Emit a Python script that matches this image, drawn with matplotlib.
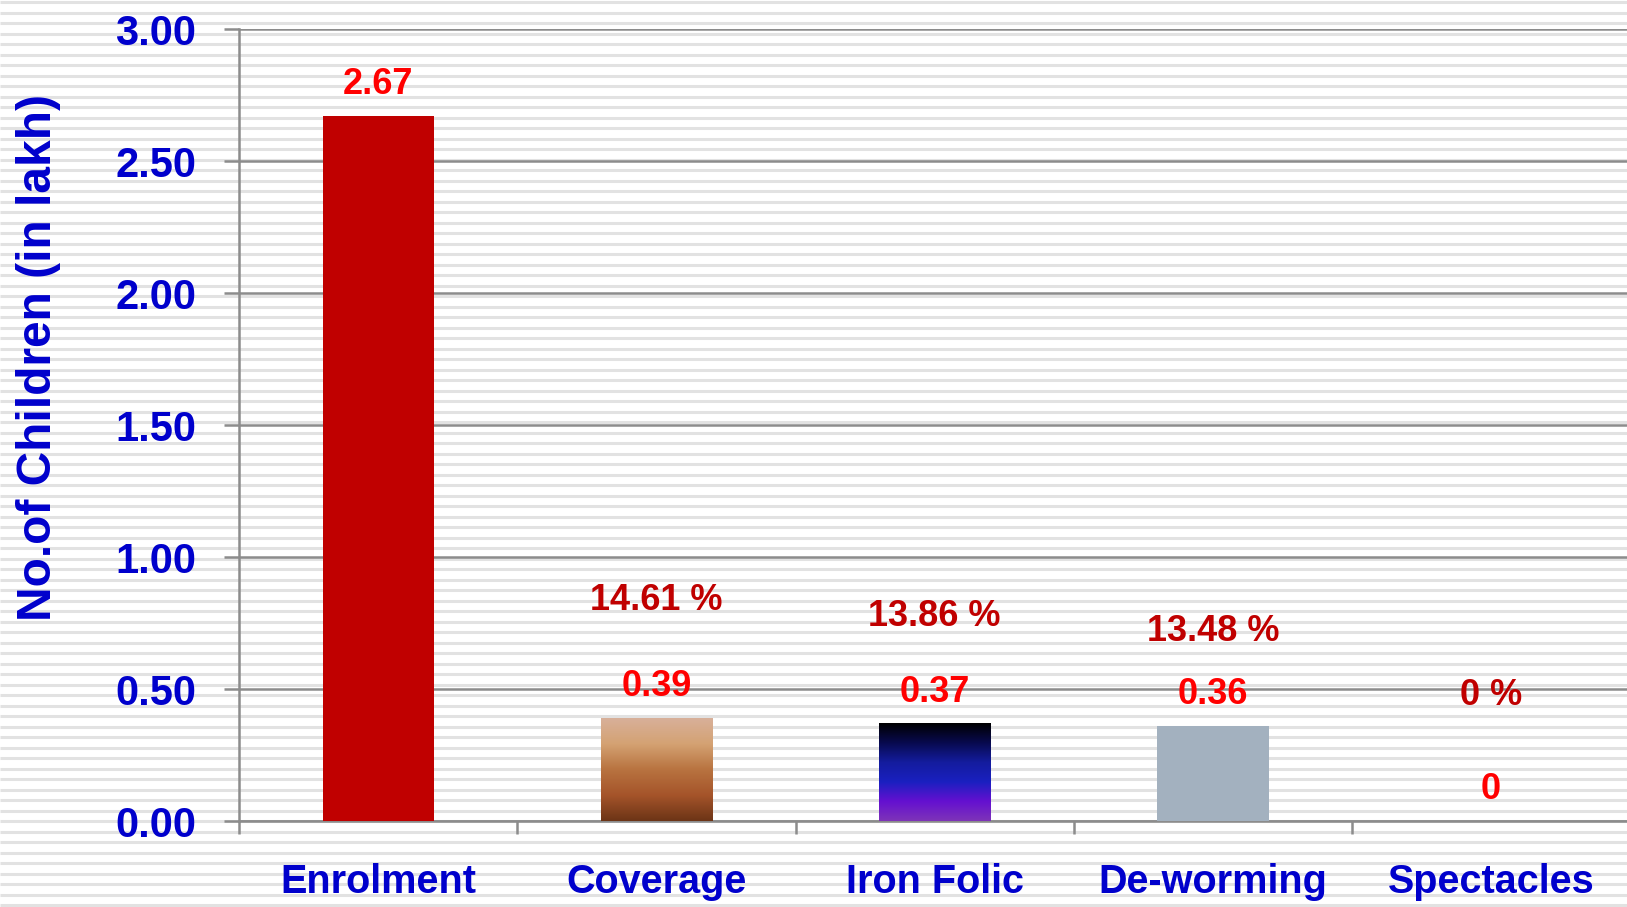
import numpy as np
import matplotlib
matplotlib.use('Agg')
import matplotlib.pyplot as plt
from matplotlib.colors import LinearSegmentedColormap

plt.rcParams['font.family'] = ['Liberation Sans', 'DejaVu Sans']
plt.rcParams['font.weight'] = 'bold'

categories = ['Enrolment', 'Coverage', 'Iron Folic', 'De-worming', 'Spectacles']
values = [2.67, 0.39, 0.37, 0.36, 0]
value_labels = ['2.67', '0.39', '0.37', '0.36', '0']
pct_labels = ['', '14.61 %', '13.86 %', '13.48 %', '0 %']
yticks = [0.0, 0.5, 1.0, 1.5, 2.0, 2.5, 3.0]

BLUE = '#0000CC'
RED = '#FF0000'
DARKRED = '#C00000'
GRID = '#8c8c8c'

fig = plt.figure(figsize=(16.27, 9.07), dpi=100)

# striped background
bg = fig.add_axes([0, 0, 1, 1], zorder=-10)
bg.set_xlim(0, 1)
bg.set_ylim(0, 907)
bg.hlines(np.arange(2, 907, 10.5), 0, 1, color='#e2e2e2', lw=2.2)
bg.axis('off')

ax = fig.add_axes([0.147, 0.0948, 0.855, 0.8732])
ax.set_facecolor('none')

x = np.arange(len(categories))
width = 0.4
bars = ax.bar(x, values, width, color=[DARKRED, 'none', 'none', '#A3B1BF', 'none'], zorder=3)

# gradient fills
grads = {
    1: ['#D8B09A', '#D4A273', '#B87340', '#A5542A', '#6C3416'],
    2: ['#000000', '#080A4E', '#141C9E', '#1A20C0', '#6410D0', '#7E34B8'],
}
for i, cols in grads.items():
    cmap = LinearSegmentedColormap.from_list('g%d' % i, cols)
    grad = np.linspace(0, 1, 256).reshape(-1, 1)
    b = bars[i]
    im = ax.imshow(grad, cmap=cmap, aspect='auto', zorder=3,
                   extent=[b.get_x(), b.get_x() + b.get_width(), 0, b.get_height()])
    im.set_clip_path(b)

ax.set_xlim(-0.5, 4.5)
ax.set_ylim(0, 3.0)
ax.set_yticks(yticks)
ax.set_yticklabels(['%.2f' % t for t in yticks])
ax.grid(axis='y', color=GRID, lw=1.8, zorder=1)
ax.set_xticks(x)
ax.set_xticklabels(categories)
ax.set_xticks(np.arange(-0.5, 4.6, 1), minor=True)
ax.tick_params(axis='x', which='major', length=0, pad=30, labelsize=28.5, labelcolor=BLUE)
ax.tick_params(axis='x', which='minor', length=9, width=1.8, color=GRID)
ax.tick_params(axis='y', length=11, width=1.8, color=GRID, pad=20, labelsize=30, labelcolor=BLUE)
for s in ['top', 'right']:
    ax.spines[s].set_visible(False)
for s in ['left', 'bottom']:
    ax.spines[s].set_color(GRID)
    ax.spines[s].set_linewidth(1.8)

ax.set_ylabel('No.of Children (in lakh)', color=BLUE, fontsize=34.5, fontweight='bold', labelpad=34)
ax.yaxis.set_label_coords(-0.128, 0.585)

pct_pos = [0, 0.834, 0.775, 0.716, 0.476]
for i, v in enumerate(values):
    ax.text(x[i], v + 0.118, value_labels[i], ha='center', va='center',
            color=RED, fontsize=26, fontweight='bold', zorder=5)
    if pct_labels[i]:
        ax.text(x[i], pct_pos[i], pct_labels[i], ha='center', va='center',
                color=DARKRED, fontsize=26, fontweight='bold', zorder=5)

fig.savefig('out.png', dpi=100)
